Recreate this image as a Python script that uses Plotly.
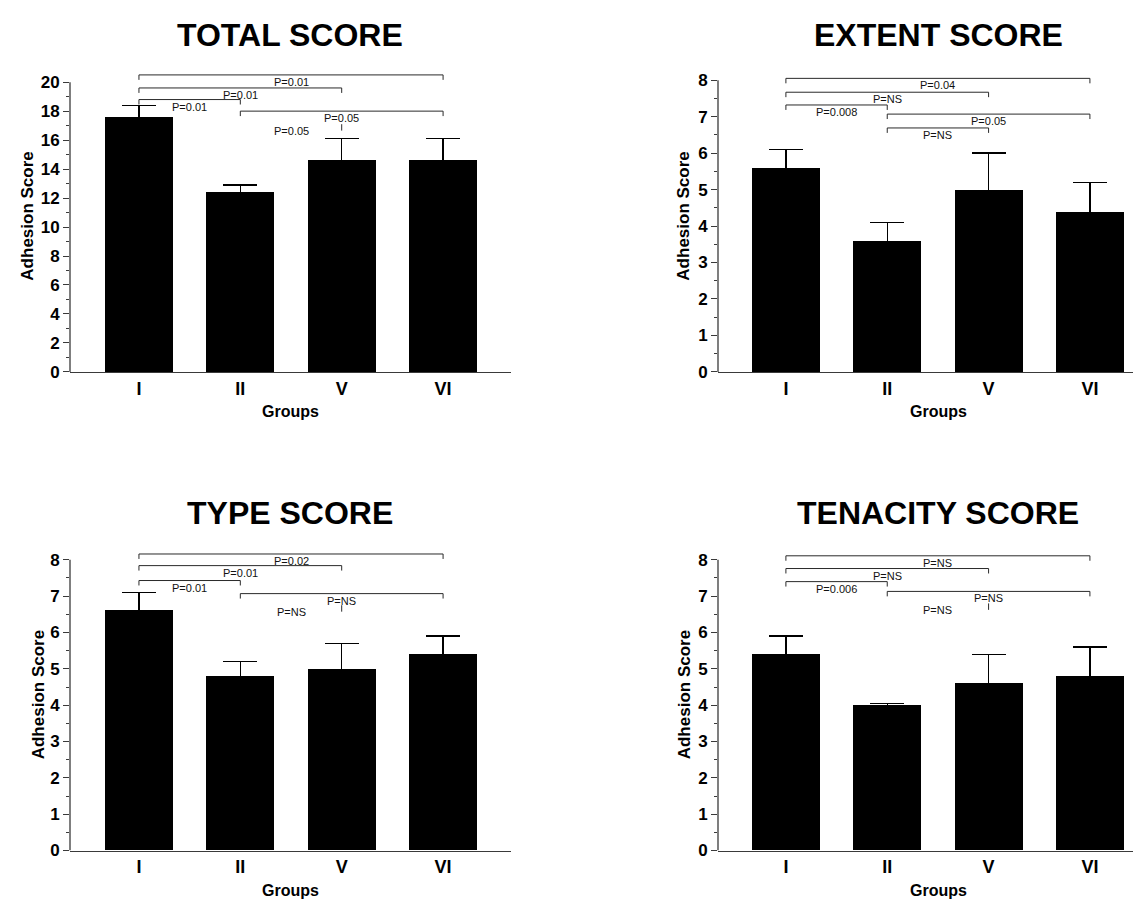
import plotly.graph_objects as go

# ---------------- data ----------------
groups = ["I", "II", "V", "VI"]

total_mean = [17.6, 12.4, 14.6, 14.6]
total_err = [0.8, 0.5, 1.5, 1.5]
extent_mean = [5.6, 3.6, 5.0, 4.4]
extent_err = [0.5, 0.5, 1.0, 0.8]
type_mean = [6.6, 4.8, 5.0, 5.4]
type_err = [0.5, 0.4, 0.7, 0.5]
tenacity_mean = [5.4, 4.0, 4.6, 4.8]
tenacity_err = [0.5, 0.05, 0.8, 0.8]

# significance brackets (from group idx, to group idx, height, label, line drawn)
total_br_from = [0, 0, 0, 1, 1]
total_br_to = [3, 2, 1, 3, 2]
total_br_y = [20.5, 19.6, 18.8, 18.0, 17.1]
total_br_label = ["P=0.01", "P=0.01", "P=0.01", "P=0.05", "P=0.05"]
total_br_line = [True, True, True, True, False]

extent_br_from = [0, 0, 0, 1, 1]
extent_br_to = [3, 2, 1, 3, 2]
extent_br_y = [8.05, 7.67, 7.32, 7.07, 6.69]
extent_br_label = ["P=0.04", "P=NS", "P=0.008", "P=0.05", "P=NS"]
extent_br_line = [True, True, True, True, True]

type_br_from = [0, 0, 0, 1, 1]
type_br_to = [3, 2, 1, 3, 2]
type_br_y = [8.16, 7.84, 7.43, 7.07, 6.75]
type_br_label = ["P=0.02", "P=0.01", "P=0.01", "P=NS", "P=NS"]
type_br_line = [True, True, True, True, False]

tenacity_br_from = [0, 0, 0, 1, 1]
tenacity_br_to = [3, 2, 1, 3, 2]
tenacity_br_y = [8.11, 7.76, 7.40, 7.13, 6.80]
tenacity_br_label = ["P=NS", "P=NS", "P=0.006", "P=NS", "P=NS"]
tenacity_br_line = [True, True, True, True, False]

titles = ["TOTAL SCORE", "EXTENT SCORE", "TYPE SCORE", "TENACITY SCORE"]
y_title = "Adhesion Score"
x_title = "Groups"

# ---------------- layout constants (pixels) ----------------
W, H = 1141, 901
FONT = "Liberation Sans, Arial, sans-serif"
LINE_C = "#2a2a2a"
AXIS_C = "#3a3a3a"

panels = [
    dict(mean=total_mean, err=total_err, bf=total_br_from, bt=total_br_to,
         by=total_br_y, bl=total_br_label, bline=total_br_line,
         xpx=(62, 503), zero=368, ppu=14.65, xr=(-0.68, 3.67),
         ymax=20, ytop=20.9, dtick=2, mdtick=1,
         tpos=(282, 27), ytpos=(20, 211), xtpos=(282, 408)),
    dict(mean=extent_mean, err=extent_err, bf=extent_br_from, bt=extent_br_to,
         by=extent_br_y, bl=extent_br_label, bline=extent_br_line,
         xpx=(710, 1141), zero=368, ppu=36.875, xr=(-0.67, 3.583),
         ymax=8, ytop=8.4, dtick=1, mdtick=0.5,
         tpos=(930, 27), ytpos=(676, 211), xtpos=(930, 408)),
    dict(mean=type_mean, err=type_err, bf=type_br_from, bt=type_br_to,
         by=type_br_y, bl=type_br_label, bline=type_br_line,
         xpx=(62, 503), zero=852, ppu=36.75, xr=(-0.68, 3.67),
         ymax=8, ytop=8.4, dtick=1, mdtick=0.5,
         tpos=(282, 511), ytpos=(30, 695), xtpos=(282, 892)),
    dict(mean=tenacity_mean, err=tenacity_err, bf=tenacity_br_from, bt=tenacity_br_to,
         by=tenacity_br_y, bl=tenacity_br_label, bline=tenacity_br_line,
         xpx=(710, 1141), zero=852, ppu=36.75, xr=(-0.67, 3.583),
         ymax=8, ytop=8.4, dtick=1, mdtick=0.5,
         tpos=(930, 511), ytpos=(676, 695), xtpos=(930, 892)),
]


def px_x(p):
    return p / W


def px_y(p):
    return 1 - p / H


fig = go.Figure()
annotations = []
shapes = []
layout_axes = {}

for k, p in enumerate(panels):
    n = "" if k == 0 else str(k + 1)
    xa, ya = "x" + n, "y" + n
    xkey, ykey = "xaxis" + n, "yaxis" + n

    fig.add_trace(go.Bar(
        x=groups, y=p["mean"], width=0.67,
        marker=dict(color="black", line=dict(width=0)),
        error_y=dict(type="data", array=p["err"], symmetric=True,
                     color="black", thickness=1.4, width=17),
        xaxis=xa, yaxis=ya, showlegend=False, hoverinfo="skip",
    ))

    d = 5.0 / p["ppu"]  # bracket end tick length in data units
    for i, j, h, lab, drawn in zip(p["bf"], p["bt"], p["by"], p["bl"], p["bline"]):
        if drawn:
            bx = [groups[i], groups[i], groups[j], groups[j]]
            byy = [h - d, h, h, h - d]
        else:
            bx = [groups[j], groups[j]]
            byy = [h, h - 1.3 * d]
        fig.add_trace(go.Scatter(
            x=bx, y=byy, mode="lines",
            line=dict(color=LINE_C, width=1),
            xaxis=xa, yaxis=ya, showlegend=False, hoverinfo="skip",
        ))
        annotations.append(dict(
            x=(i + j) / 2, y=h, xref=xa, yref=ya, text=lab, showarrow=False,
            yshift=-7, xanchor="center", yanchor="middle",
            font=dict(family=FONT, size=11, color="#111111"),
        ))

    y0 = px_y(p["zero"])
    y1 = px_y(p["zero"] - p["ytop"] * p["ppu"])
    layout_axes[xkey] = dict(
        domain=[px_x(p["xpx"][0]), px_x(p["xpx"][1])],
        anchor=ya, type="category", categoryorder="array", categoryarray=groups,
        range=list(p["xr"]), showline=True, linecolor=AXIS_C, linewidth=1.3,
        ticks="", showgrid=False, zeroline=False,
        tickfont=dict(family=FONT, size=18, color="black", weight="bold"),
    )
    layout_axes[ykey] = dict(
        domain=[y0, y1], anchor=xa, range=[0, p["ytop"]],
        showline=False, showgrid=False, zeroline=False,
        tickmode="linear", tick0=0, dtick=p["dtick"],
        ticks="outside", ticklen=6, tickwidth=1.3, tickcolor=AXIS_C,
        minor=dict(ticks="outside", ticklen=3, tickwidth=1.3, tickcolor=AXIS_C,
                   dtick=p["mdtick"], tick0=0),
        tickfont=dict(family=FONT, size=17, color="black", weight="bold"),
    )
    # y axis line only up to the last labelled tick
    shapes.append(dict(type="line", xref=xa + " domain", yref=ya,
                       x0=0, x1=0, y0=0, y1=p["ymax"],
                       line=dict(color=AXIS_C, width=1.3)))

    annotations.append(dict(
        x=px_x(p["tpos"][0]), y=px_y(p["tpos"][1]), xref="paper", yref="paper",
        text=titles[k], showarrow=False, xanchor="center", yanchor="middle",
        font=dict(family=FONT, size=32, color="black", weight="bold"),
    ))
    annotations.append(dict(
        x=px_x(p["ytpos"][0]), y=px_y(p["ytpos"][1]), xref="paper", yref="paper",
        text=y_title, showarrow=False, textangle=-90, xanchor="center", yanchor="middle",
        font=dict(family=FONT, size=17, color="black", weight="bold"),
    ))
    annotations.append(dict(
        x=px_x(p["xtpos"][0]), y=px_y(p["xtpos"][1]), xref="paper", yref="paper",
        text=x_title, showarrow=False, xanchor="center", yanchor="middle",
        font=dict(family=FONT, size=16, color="black", weight="bold"),
    ))

fig.update_layout(
    width=W, height=H, autosize=False,
    margin=dict(l=0, r=0, t=0, b=0, pad=0),
    paper_bgcolor="white", plot_bgcolor="white",
    annotations=annotations, shapes=shapes,
    bargap=0,
    **layout_axes,
)

fig.write_html("out.html", config={"displayModeBar": False})
